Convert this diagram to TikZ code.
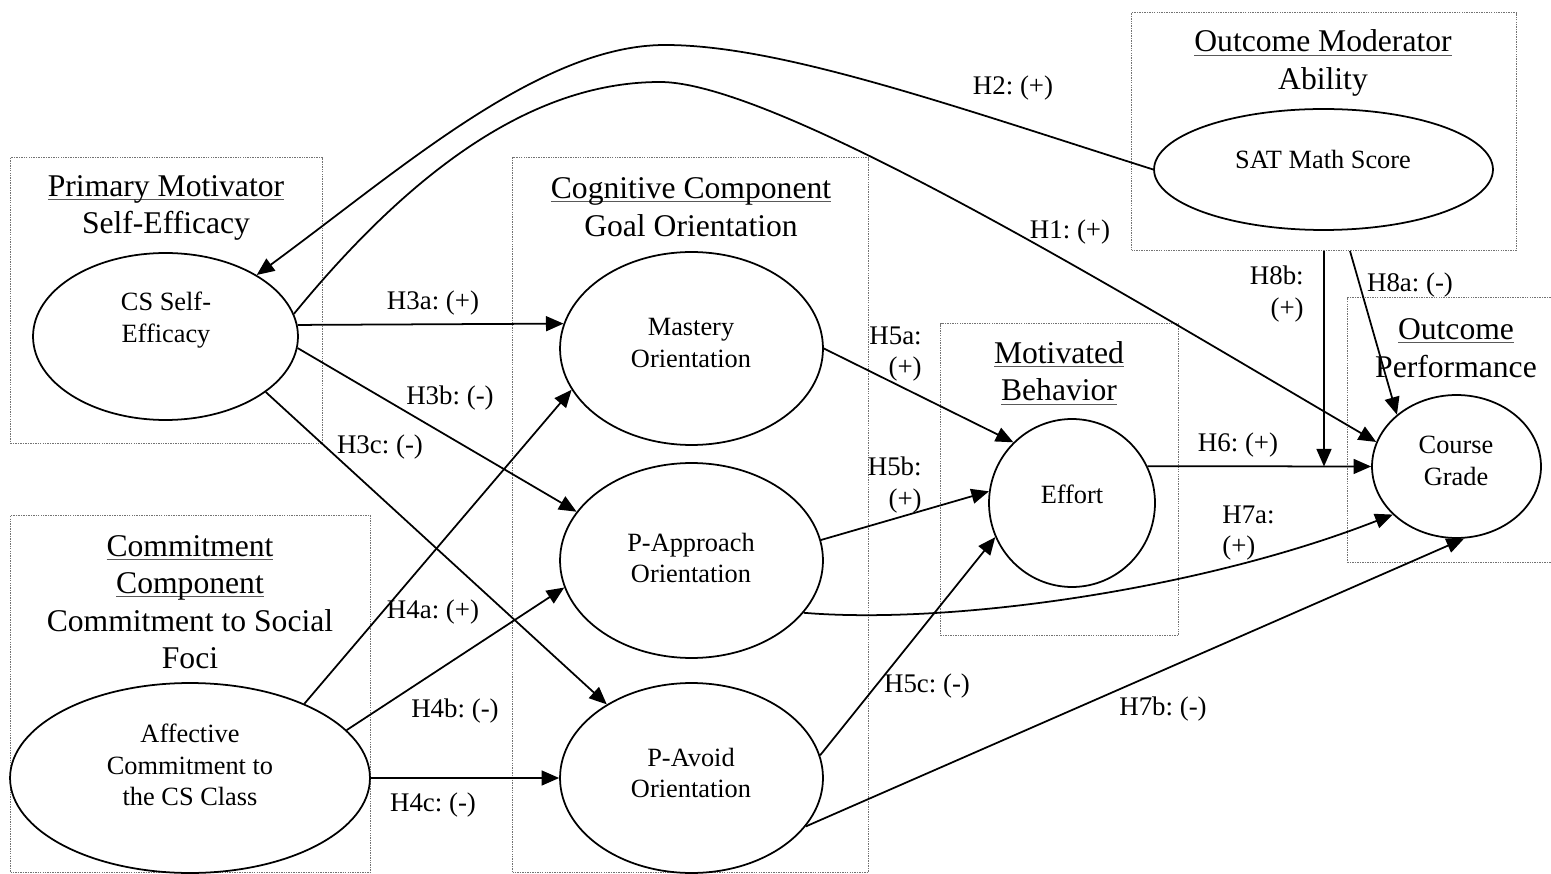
\documentclass[tikz,border=0pt]{standalone}
\usepackage{fontspec}
\setmainfont{Liberation Serif}
\usetikzlibrary{arrows.meta,calc,shapes.geometric}
\frenchspacing
\newcommand{\ulin}[1]{\setbox0=\hbox{#1}\rlap{\color{black!65}\rule[-2.2pt]{\wd0}{0.6pt}}\box0}
\begin{document}
\begin{tikzpicture}[x=0.02cm,y=-0.02cm,
  box/.style={draw=black!55, line width=0.6pt, dash pattern=on 0.8pt off 0.6pt, rectangle, inner sep=0pt, anchor=north west},
  ell/.style={draw, ellipse, line width=1pt, inner sep=0pt},
  ttl/.style={font=\fontsize{18}{21.3}\selectfont, align=center, inner sep=0pt},
  etxt/.style={font=\fontsize{15}{17.8}\selectfont, align=center, inner sep=0pt},
  lbl/.style={font=\fontsize{15.3}{17.8}\selectfont, inner sep=0pt},
  arr/.style={line width=1pt, -{Triangle[length=10pt,width=8.5pt]}}]

\useasboundingbox (0,0) rectangle (1551,874);
\fill[white] (0,0) rectangle (1551,874);

% group boxes
\node[box, minimum width=6.24cm, minimum height=5.72cm] (pmb) at (10,157) {};
\node[box, minimum width=7.12cm, minimum height=14.3cm] (ccb) at (512,157) {};
\node[box, minimum width=7.2cm, minimum height=7.14cm] (cmb) at (10,515) {};
\node[box, minimum width=7.7cm, minimum height=4.76cm] (omb) at (1131,12) {};
\node[box, minimum width=4.76cm, minimum height=6.24cm] (mbb) at (940,323) {};
\node[box, minimum width=4.4cm, minimum height=5.3cm] (opb) at (1347,297) {};

% group titles
\node[ttl] (pmt) at (166,208) {\ulin{Primary Motivator}\\Self-Efficacy};
\node[ttl] (cct) at (691,207) {\ulin{Cognitive Component}\\Goal Orientation};
\node[ttl] (cmt) at (190,602) {\ulin{Commitment}\\\ulin{Component}\\Commitment to Social\\Foci};
\node[ttl] (omt) at (1323,63) {\ulin{Outcome Moderator}\\Ability};
\node[ttl] (mbt) at (1059,373) {\ulin{Motivated}\\\ulin{Behavior}};
\node[ttl] (opt) at (1456,348) {\ulin{Outcome}\\Performance};

% constructs
\node[ell, minimum width=5.3cm, minimum height=3.34cm] (cse) at (165.5,336.5) {};
\node[ell, minimum width=5.26cm, minimum height=3.86cm] (mas) at (691.5,348.5) {};
\node[ell, minimum width=5.26cm, minimum height=3.9cm] (pap) at (691.5,560.5) {};
\node[ell, minimum width=5.26cm, minimum height=3.8cm] (pav) at (691.5,778) {};
\node[ell, minimum width=7.2cm, minimum height=3.8cm] (aff) at (190,778) {};
\node[ell, minimum width=6.78cm, minimum height=2.42cm] (sat) at (1323.5,169.5) {};
\node[ell, minimum width=3.32cm, minimum height=3.36cm] (eff) at (1072,503) {};
\node[ell, minimum width=3.38cm, minimum height=2.86cm] (cg) at (1456.5,466.5) {};

\node[etxt] (cset) at (166,320) {CS Self-\\Efficacy};
\node[etxt] (mast) at (691,343) {Mastery\\Orientation};
\node[etxt] (papt) at (691,558) {P-Approach\\Orientation};
\node[etxt] (pavt) at (691,773) {P-Avoid\\Orientation};
\node[etxt] (afft) at (190,765) {Affective\\Commitment to\\the CS Class};
\node[etxt] (satt) at (1323,159) {SAT Math Score};
\node[etxt] (efft) at (1072,494) {Effort};
\node[etxt] (cgt) at (1456,461) {Course\\Grade};

% connectors
\draw[arr] (cse.5.4) -- (mas.169.6);
\draw[arr] (cse.-5.4) -- (pap.157.3);
\draw[arr] (cse.-29) -- (pav.139.2);
\draw[arr] (aff.33.6) -- (mas.199);
\draw[arr] (aff.17) -- (pap.192.5);
\draw[arr] (aff.0) -- (pav.180);
\draw[arr] (mas.0) -- (eff.134.5);
\draw[arr] (pap.9.8) -- (eff.172.5);
\draw[arr] (pav.10.9) -- (eff.204.6);
\draw[arr] (eff.26) -- (cg.180);
\draw[arr] (pap.-25.6) .. controls (950,625) and (1200,590) .. (cg.217.8);
\draw[arr] (pav.-23.6) -- (cg.276.8);
\draw[arr] (cse.10.5) .. controls (420,160) and (540,82) .. (660,82) .. controls (780,82) and (1150,310) .. (cg.163);
\draw[arr] (sat.180) .. controls (950,105) and (780,45) .. (665,45) .. controls (540,45) and (400,170) .. (cse.34.5);
\coordinate (h8b) at (omb.south |- cg.180);
\draw[arr] (omb.south) -- (h8b);
\draw[arr] ($(omb.south)+(26,0)$) -- (cg.139);

% labels
\node[lbl] (l2) at (1013,88) {H2: (+)};
\node[lbl] (l1) at (1070,232) {H1: (+)};
\node[lbl] (l3a) at (433,303) {H3a: (+)};
\node[lbl] (l3b) at (450,398) {H3b: (-)};
\node[lbl] (l3c) at (380,447) {H3c: (-)};
\node[lbl] (l4a) at (433,612) {H4a: (+)};
\node[lbl] (l4b) at (455,711) {H4b: (-)};
\node[lbl] (l4c) at (433,805) {H4c: (-)};
\node[lbl, align=right, anchor=east] (l5a) at (922,354) {H5a:\\(+)};
\node[lbl, align=right, anchor=east] (l5b) at (922,485) {H5b:\\(+)};
\node[lbl] (l5c) at (927,686) {H5c: (-)};
\node[lbl] (l6) at (1238,445) {H6: (+)};
\node[lbl, align=left, anchor=west] (l7a) at (1222,533) {H7a:\\(+)};
\node[lbl] (l7b) at (1163,709) {H7b: (-)};
\node[lbl] (l8a) at (1410,285) {H8a: (-)};
\node[lbl, align=right, anchor=east] (l8b) at (1304,294) {H8b:\\(+)};
\end{tikzpicture}
\end{document}
